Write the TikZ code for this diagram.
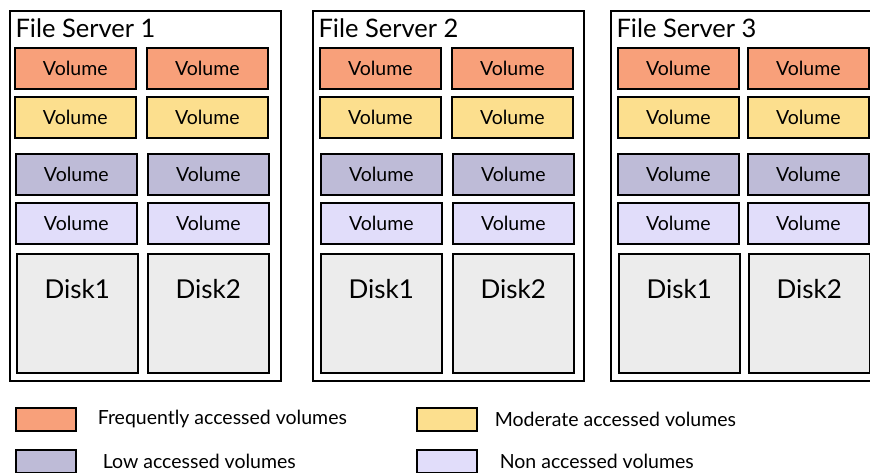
\documentclass[tikz,border=0pt]{standalone}
\usepackage{fontspec}
\setmainfont{Lato}
\usepackage{xcolor}
\usepackage{tikz}
\usetikzlibrary{positioning}

\definecolor{freqcol}{RGB}{248,160,122}
\definecolor{modcol}{RGB}{252,223,142}
\definecolor{lowcol}{RGB}{190,187,215}
\definecolor{noncol}{RGB}{225,221,250}
\definecolor{diskcol}{RGB}{236,236,236}

\begin{document}
\begin{tikzpicture}[
  x=1pt, y=-1pt,
  server/.style={draw, line width=1.6pt, anchor=north west, minimum width=271pt, minimum height=370pt, inner sep=0pt},
  title/.style={anchor=west, font=\fontsize{25.5}{28}\selectfont},
  vol/.style={draw, line width=1.6pt, anchor=north west, minimum width=121pt, minimum height=41pt, inner sep=0pt, font=\fontsize{19.5}{22}\selectfont},
  disk/.style={draw, line width=1.6pt, anchor=north west, minimum width=121pt, minimum height=119pt, inner sep=0pt, fill=diskcol},
  disklabel/.style={anchor=center, yshift=-36pt, font=\fontsize{26}{29}\selectfont},
  swatch/.style={draw, line width=1.6pt, anchor=north west, minimum width=60pt, minimum height=23pt, inner sep=0pt},
  key/.style={font=\fontsize{19.5}{22}\selectfont, inner sep=0pt}
]
  \def\sax{9}
  \def\sbx{312}
  \def\scx{610}
  \def\ytop{10}

  \fill[white] (0,0) rectangle (870,472);
  \clip (0,0) rectangle (870,472);

  % file server 1
  \node[server] (srva) at (\sax,\ytop) {};
  \node[title] (srva-t) at (\sax+3,\ytop+18) {File Server 1};
  \node[vol, fill=freqcol] (srva-f1) at (\sax+5,47) {Volume};
  \node[vol, fill=freqcol] (srva-f2) at (\sax+137,47) {Volume};
  \node[vol, fill=modcol] (srva-m1) at (\sax+5,96) {Volume};
  \node[vol, fill=modcol] (srva-m2) at (\sax+137,96) {Volume};
  \node[vol, fill=lowcol] (srva-l1) at (\sax+6,153) {Volume};
  \node[vol, fill=lowcol] (srva-l2) at (\sax+138,153) {Volume};
  \node[vol, fill=noncol] (srva-n1) at (\sax+6,202) {Volume};
  \node[vol, fill=noncol] (srva-n2) at (\sax+138,202) {Volume};
  \node[disk, label={[disklabel]north:Disk1}] (srva-d1) at (\sax+7,253) {};
  \node[disk, label={[disklabel]north:Disk2}] (srva-d2) at (\sax+138,253) {};

  % file server 2
  \node[server] (srvb) at (\sbx,\ytop) {};
  \node[title] (srvb-t) at (\sbx+3,\ytop+18) {File Server 2};
  \node[vol, fill=freqcol] (srvb-f1) at (\sbx+7,47) {Volume};
  \node[vol, fill=freqcol] (srvb-f2) at (\sbx+139,47) {Volume};
  \node[vol, fill=modcol] (srvb-m1) at (\sbx+7,96) {Volume};
  \node[vol, fill=modcol] (srvb-m2) at (\sbx+139,96) {Volume};
  \node[vol, fill=lowcol] (srvb-l1) at (\sbx+8,153) {Volume};
  \node[vol, fill=lowcol] (srvb-l2) at (\sbx+140,153) {Volume};
  \node[vol, fill=noncol] (srvb-n1) at (\sbx+8,202) {Volume};
  \node[vol, fill=noncol] (srvb-n2) at (\sbx+140,202) {Volume};
  \node[disk, label={[disklabel]north:Disk1}] (srvb-d1) at (\sbx+8,253) {};
  \node[disk, label={[disklabel]north:Disk2}] (srvb-d2) at (\sbx+140,253) {};

  % file server 3 (runs past the right edge)
  \node[server] (srvc) at (\scx,\ytop) {};
  \node[title] (srvc-t) at (\scx+3,\ytop+18) {File Server 3};
  \node[vol, fill=freqcol] (srvc-f1) at (\scx+7,47) {Volume};
  \node[vol, fill=freqcol] (srvc-f2) at (\scx+137,47) {Volume};
  \node[vol, fill=modcol] (srvc-m1) at (\scx+7,96) {Volume};
  \node[vol, fill=modcol] (srvc-m2) at (\scx+137,96) {Volume};
  \node[vol, fill=lowcol] (srvc-l1) at (\scx+7,153) {Volume};
  \node[vol, fill=lowcol] (srvc-l2) at (\scx+137,153) {Volume};
  \node[vol, fill=noncol] (srvc-n1) at (\scx+7,202) {Volume};
  \node[vol, fill=noncol] (srvc-n2) at (\scx+137,202) {Volume};
  \node[disk, label={[disklabel]north:Disk1}] (srvc-d1) at (\scx+8,253) {};
  \node[disk, label={[disklabel]north:Disk2}] (srvc-d2) at (\scx+138,253) {};

  % legend
  \node[swatch, fill=freqcol] (key-freq) at (15,407) {};
  \node[key, right=21pt of key-freq] {Frequently accessed volumes};
  \node[swatch, fill=modcol] (key-mod) at (416,407) {};
  \node[key, right=17pt of key-mod] {Moderate accessed volumes};
  \node[swatch, fill=lowcol] (key-low) at (15,449) {};
  \node[key, right=26pt of key-low] {Low accessed volumes};
  \node[swatch, fill=noncol] (key-non) at (416,449) {};
  \node[key, right=22pt of key-non] {Non accessed volumes};
\end{tikzpicture}
\end{document}
